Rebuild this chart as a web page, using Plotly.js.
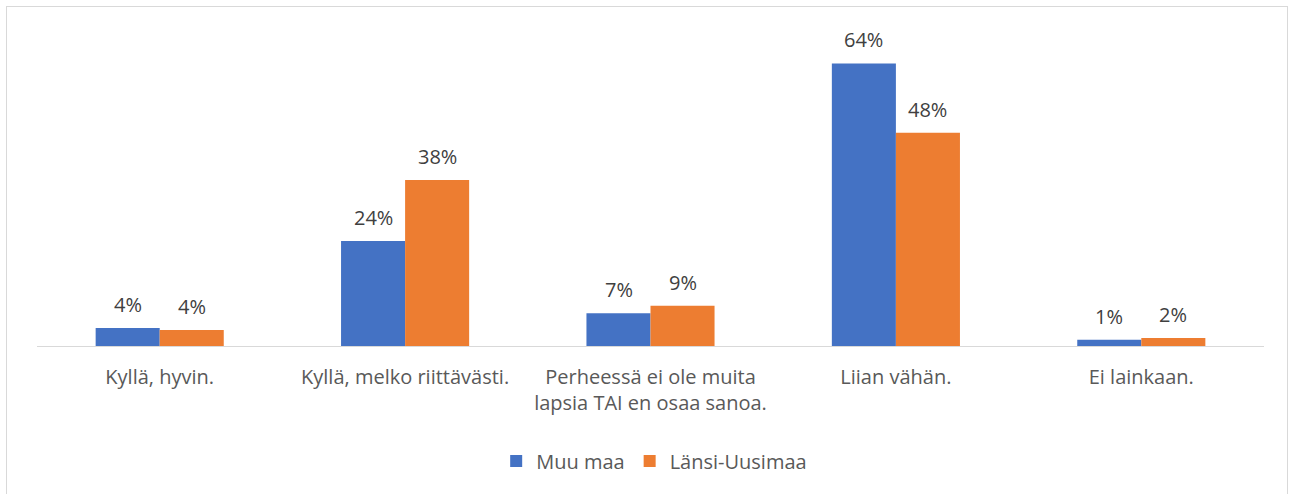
<!DOCTYPE html>
<html>
<head>
<meta charset="utf-8">
<script src="https://cdn.plot.ly/plotly-3.0.1.min.js"></script>
<style>
html,body{margin:0;padding:0;background:#fff;overflow:hidden;}
#chart{width:1291px;height:494px;position:absolute;left:0;top:0;}
#frame{position:absolute;left:6px;top:6px;width:1280px;height:520px;border:1px solid #d9d9d9;pointer-events:none;}
</style>
</head>
<body>
<div id="chart"></div>
<div id="frame"></div>
<script>
const categories = [
  "Kyllä, hyvin.",
  "Kyllä, melko riittävästi.",
  "Perheessä ei ole muita<br>lapsia TAI en osaa sanoa.",
  "Liian vähän.",
  "Ei lainkaan."
];
const seriesNames = ["Muu maa", "Länsi-Uusimaa"];
const muuMaa = [4.1, 23.8, 7.4, 64.0, 1.4];
const lansiUusimaa = [3.6, 37.6, 9.1, 48.3, 1.8];
const muuMaaLabels = ["4%", "24%", "7%", "64%", "1%"];
const lansiUusimaaLabels = ["4%", "38%", "9%", "48%", "2%"];
const colors = ["#4472C4", "#ED7D31"];

const traces = [
  {type: "bar", name: seriesNames[0], x: categories, y: muuMaa, marker: {color: colors[0]}, hoverinfo: "none"},
  {type: "bar", name: seriesNames[1], x: categories, y: lansiUusimaa, marker: {color: colors[1]}, hoverinfo: "none"}
];

const FONT = "Open Sans";
const barOffset = 32;
const annotations = [];
[[muuMaa, muuMaaLabels, -barOffset], [lansiUusimaa, lansiUusimaaLabels, barOffset]].forEach(([vals, labs, dx]) => {
  vals.forEach((v, i) => {
    annotations.push({
      x: categories[i], y: v, xref: "x", yref: "y",
      text: labs[i], showarrow: false, xshift: dx, yshift: 8,
      yanchor: "bottom", font: {family: FONT, size: 20, color: "#404040"}
    });
  });
});

const layout = {
  width: 1291, height: 494,
  margin: {l: 37, r: 27, t: 37, b: 148},
  paper_bgcolor: "rgba(0,0,0,0)", plot_bgcolor: "rgba(0,0,0,0)",
  barmode: "group", bargap: 0.478, bargroupgap: 0,
  font: {family: FONT, size: 20, color: "#595959"},
  xaxis: {
    showline: true, linecolor: "#d9d9d9", linewidth: 1,
    ticks: "", showgrid: false, zeroline: false,
    tickfont: {family: FONT, size: 20, color: "#595959"},
    ticklabelstandoff: 13
  },
  yaxis: {range: [0, 70], visible: false, showgrid: false, zeroline: false},
  showlegend: true,
  legend: {
    orientation: "h", x: 0.503, xanchor: "center", y: -0.372, yanchor: "middle",
    font: {family: FONT, size: 20, color: "#595959"},
    itemwidth: 30, traceorder: "normal"
  },
  annotations: annotations
};

Plotly.newPlot("chart", traces, layout, {displayModeBar: false, staticPlot: true});
</script>
</body>
</html>
